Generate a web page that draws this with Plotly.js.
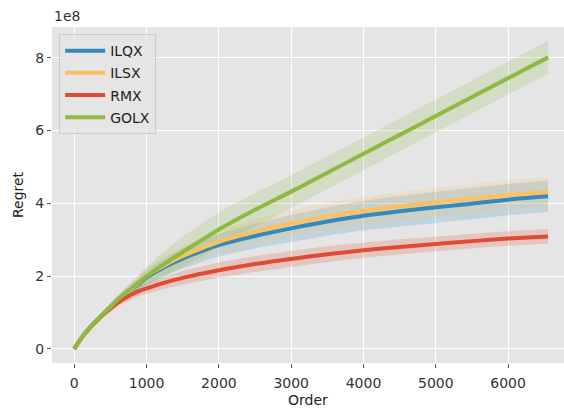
<!DOCTYPE html>
<html>
<head>
<meta charset="utf-8">
<script src="https://cdn.plot.ly/plotly-3.0.1.min.js"></script>
<style>html,body{margin:0;padding:0;background:#fff;}#chart{width:564px;height:408px;}</style>
</head>
<body>
<div id="chart"></div>
<script>
// Order (x) and regret values in units of 1e8
const order = [0, 100, 200, 300, 400, 500, 600, 700, 800, 900, 1000, 1250, 1500, 2000, 2500, 3000, 3500, 4000, 4500, 5000, 5500, 6000, 6553];

const ilqx = [0, 0.30, 0.55, 0.76, 0.96, 1.15, 1.33, 1.49, 1.64, 1.80, 1.96, 2.25, 2.48, 2.85, 3.10, 3.31, 3.50, 3.66, 3.78, 3.89, 3.99, 4.10, 4.19];
const ilqxStd = [0, 0.02, 0.04, 0.06, 0.08, 0.10, 0.12, 0.14, 0.16, 0.18, 0.20, 0.24, 0.27, 0.31, 0.34, 0.37, 0.39, 0.41, 0.42, 0.43, 0.43, 0.43, 0.43];

const ilsx = [0, 0.30, 0.55, 0.76, 0.96, 1.15, 1.34, 1.50, 1.66, 1.83, 2.00, 2.30, 2.55, 2.94, 3.22, 3.45, 3.64, 3.79, 3.92, 4.03, 4.13, 4.23, 4.31];
const ilsxStd = [0, 0.02, 0.04, 0.06, 0.08, 0.10, 0.12, 0.14, 0.16, 0.18, 0.20, 0.24, 0.27, 0.31, 0.34, 0.36, 0.37, 0.38, 0.39, 0.39, 0.40, 0.40, 0.40];

const rmx = [0, 0.30, 0.54, 0.75, 0.94, 1.11, 1.26, 1.39, 1.50, 1.59, 1.66, 1.82, 1.95, 2.16, 2.33, 2.47, 2.60, 2.71, 2.80, 2.88, 2.96, 3.03, 3.09];
const rmxStd = [0, 0.02, 0.04, 0.06, 0.08, 0.10, 0.11, 0.12, 0.13, 0.14, 0.15, 0.17, 0.19, 0.21, 0.22, 0.22, 0.22, 0.21, 0.21, 0.20, 0.20, 0.20, 0.20];

const golx = [0, 0.30, 0.55, 0.76, 0.96, 1.15, 1.35, 1.52, 1.68, 1.84, 1.99, 2.34, 2.66, 3.28, 3.82, 4.32, 4.84, 5.36, 5.88, 6.40, 6.92, 7.44, 8.01];
const golxStd = [0, 0.02, 0.04, 0.06, 0.08, 0.10, 0.12, 0.14, 0.17, 0.21, 0.26, 0.35, 0.42, 0.46, 0.46, 0.45, 0.45, 0.45, 0.45, 0.45, 0.45, 0.45, 0.45];

const names = ["ILQX", "ILSX", "RMX", "GOLX"];
const means = [ilqx, ilsx, rmx, golx];
const stds = [ilqxStd, ilsxStd, rmxStd, golxStd];
const colors = ["#348ABD", "#FBC15E", "#E24A33", "#8EBA42"];
const fills = ["rgba(52,138,189,0.2)", "rgba(251,193,94,0.2)", "rgba(226,74,51,0.2)", "rgba(142,186,66,0.2)"];

const yTicks = [0, 2, 4, 6, 8];
const yTickText = ["0", "2", "4", "6", "8"];
const xTicks = [0, 1000, 2000, 3000, 4000, 5000, 6000];

const traces = [];
for (let i = 0; i < names.length; i++) {
  const up = means[i].map((v, k) => v + stds[i][k]);
  const lo = means[i].map((v, k) => Math.max(0, v - stds[i][k]));
  traces.push({x: order, y: up, mode: 'lines', line: {width: 0, shape: 'spline', smoothing: 0.8}, showlegend: false, hoverinfo: 'skip'});
  traces.push({x: order, y: lo, mode: 'lines', line: {width: 0, shape: 'spline', smoothing: 0.8}, fill: 'tonexty', fillcolor: fills[i], showlegend: false, hoverinfo: 'skip'});
}
for (let i = 0; i < names.length; i++) {
  traces.push({x: order, y: means[i], mode: 'lines', name: names[i], legendgroup: names[i],
    line: {color: colors[i], width: 4, shape: 'spline', smoothing: 0.8}});
}

const txt = '#333333';
const layout = {
  width: 564, height: 408,
  margin: {l: 52, r: 0, t: 27, b: 45},
  paper_bgcolor: '#ffffff',
  plot_bgcolor: '#E5E5E5',
  font: {family: 'DejaVu Sans, sans-serif', size: 14, color: txt},
  showlegend: true,
  legend: {x: 0.014, y: 0.979, xanchor: 'left', yanchor: 'top',
    bgcolor: 'rgba(229,229,229,0.85)', bordercolor: '#cccccc', borderwidth: 1,
    font: {size: 14, color: '#222222'}, traceorder: 'grouped', tracegroupgap: 1, itemwidth: 40},
  xaxis: {range: [-308, 6773], tickvals: xTicks, ticks: 'outside', ticklen: 4, tickcolor: '#555555',
    ticklabelstandoff: 3,
    showgrid: true, gridcolor: '#ffffff', gridwidth: 1, zeroline: false, showline: false,
    tickfont: {size: 14, color: txt},
    title: {text: 'Order', font: {size: 14, color: '#222222'}, standoff: 8}},
  yaxis: {range: [-0.39, 8.845], tickvals: yTicks, ticktext: yTickText, ticks: 'outside', ticklen: 4, tickcolor: '#555555',
    showgrid: true, gridcolor: '#ffffff', gridwidth: 1, zeroline: false, showline: false,
    tickfont: {size: 14, color: txt},
    title: {text: 'Regret', font: {size: 14, color: '#222222'}, standoff: 8}},
  annotations: [{text: '1e8', xref: 'paper', yref: 'paper', x: 0, y: 1, xanchor: 'left', yanchor: 'bottom',
    showarrow: false, yshift: 1, font: {size: 14, color: txt}}]
};

Plotly.newPlot('chart', traces, layout, {displayModeBar: false, staticPlot: true});
</script>
</body>
</html>
